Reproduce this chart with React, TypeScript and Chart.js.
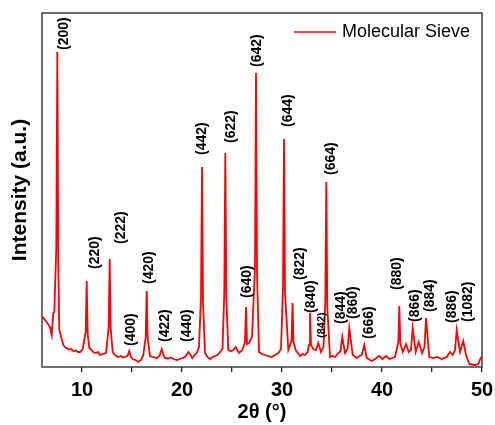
import React, { useEffect, useRef } from "react";
import { Chart, registerables } from "chart.js";

Chart.register(...registerables);

// 2θ (degrees) of every point on the measured pattern
const twoTheta: number[] = [
  6.07, 6.3, 6.53, 6.8, 6.97, 7.13, 7.23, 7.43, 7.53, 7.63, 7.73, 7.87, 8.13, 8.3, 8.47, 8.7, 8.9, 9.13, 9.4, 9.6, 9.8, 10.07,
  10.37, 10.47, 10.57, 10.73, 10.95, 11.13, 11.4, 11.6, 11.8, 12.1, 12.4, 12.67, 12.77, 12.87, 13.07, 13.3, 13.63, 13.9, 14.1,
  14.3, 14.55, 14.73, 14.9, 15.07, 15.35, 15.63, 15.9, 16.13, 16.37, 16.47, 16.57, 16.8, 17.1, 17.47, 17.75, 17.97, 18.15,
  18.3, 18.6, 18.9, 19.13, 19.5, 19.8, 20.05, 20.3, 20.65, 20.8, 21.03, 21.25, 21.47, 21.7, 21.9, 22.0, 22.1, 22.3, 22.55,
  22.8, 23.05, 23.3, 23.55, 23.8, 24.05, 24.23, 24.33, 24.43, 24.63, 24.9, 25.13, 25.37, 25.7, 26.03, 26.3, 26.4, 26.5,
  26.7, 27.0, 27.3, 27.4, 27.5, 27.7, 28.0, 28.3, 28.65, 28.97, 29.3, 29.63, 29.9, 30.1, 30.2, 30.3, 30.63, 30.95, 31.05,
  31.15, 31.37, 31.8, 32.05, 32.3, 32.55, 32.7, 32.8, 32.9, 33.13, 33.4, 33.63, 33.9, 34.15, 34.33, 34.43, 34.53, 34.8,
  35.05, 35.3, 35.63, 35.85, 36.03, 36.3, 36.55, 36.73, 37.07, 37.47, 37.75, 37.97, 38.23, 38.47, 38.97, 39.3, 39.7, 40.07,
  40.4, 40.73, 41.0, 41.3, 41.63, 41.73, 41.83, 42.07, 42.4, 42.67, 42.9, 43.07, 43.37, 43.67, 44.0, 44.25, 44.4, 44.73,
  45.13, 45.53, 45.97, 46.47, 46.8, 47.07, 47.3, 47.47, 47.8, 48.13, 48.4, 48.73, 49.0, 49.3, 49.63, 49.87, 50.0,
];

// Intensity (a.u.) at each 2θ above
const intensity: number[] = [
  500, 470, 440, 400, 320, 540, 550, 1200, 3150, 1000, 370, 320, 220, 200, 190, 175, 180, 160, 165, 150, 150, 180,
  350, 860, 330, 190, 170, 150, 140, 150, 120, 130, 140, 400, 1080, 380, 150, 120, 100, 110, 95,
  100, 110, 160, 100, 80, 70, 50, 70, 120, 300, 760, 280, 110, 100, 90, 110, 180, 120,
  90, 85, 95, 80, 70, 80, 90, 100, 150, 130, 90, 120, 140, 200, 700, 2000, 650, 140, 100,
  80, 100, 110, 120, 150, 180, 750, 2140, 700, 170, 160, 170, 200, 140, 170, 250, 600, 230,
  240, 300, 1000, 2940, 950, 150, 130, 120, 110, 100, 120, 140, 180, 800, 2280, 750, 170, 260, 640,
  250, 170, 110, 130, 120, 150, 220, 540, 220, 180, 170, 240, 150, 200, 650, 1850, 600, 100,
  110, 100, 140, 160, 300, 140, 180, 390, 120, 90, 110, 120, 220, 90, 60, 80, 110, 80,
  110, 80, 90, 100, 250, 610, 240, 150, 230, 150, 170, 390, 150, 250, 140, 200, 490, 100,
  90, 100, 80, 100, 150, 120, 170, 370, 150, 260, 120, 30, 25, 20, 30, 90, 100,
];

// Miller indices written above the reflections, with the 2θ / intensity where each label starts
const hklText: string[] = [
  "(200)", "(220)", "(222)", "(400)", "(420)", "(422)", "(440)", "(442)", "(622)", "(640)", "(642)", "(644)",
  "(822)", "(840)", "(842)", "(664)", "(844)", "(860)", "(666)", "(880)", "(866)", "(884)", "(886)", "(1082)",
];
const hklAt2Theta: number[] = [
  8.2, 11.3, 13.9, 14.9, 16.75, 18.3, 20.5, 22.0, 24.95, 26.5, 27.5, 30.65,
  31.8, 32.9, 34.0, 34.95, 35.9, 37.15, 38.75, 41.55, 43.35, 44.8, 47.0, 48.6,
];
const hklAtIntensity: number[] = [
  3170, 980, 1230, 210, 830, 250, 250, 2120, 2240, 690, 3000, 2400,
  870, 540, 290, 1920, 430, 480, 280, 770, 450, 550, 440, 450,
];

// Axis ticks (labels only on the multiples of ten)
const xTicks: number[] = [10, 15, 20, 25, 30, 35, 40, 45, 50];

const FONT = "'Liberation Sans', Arial, Helvetica, sans-serif";

const framePlugin = {
  id: "frame",
  afterDraw(chart: any) {
    const { ctx, chartArea } = chart;
    ctx.save();
    ctx.strokeStyle = "#222";
    ctx.lineWidth = 1.3;
    ctx.strokeRect(chartArea.left, chartArea.top, chartArea.right - chartArea.left, chartArea.bottom - chartArea.top);
    ctx.restore();
  },
};

// Series key in the upper right corner of the plot
const keyPlugin = {
  id: "seriesKey",
  afterDraw(chart: any) {
    const { ctx, chartArea } = chart;
    const ds = chart.data.datasets[0];
    const textRight = chartArea.right - 12;
    const midY = chartArea.top + 19;
    ctx.save();
    ctx.font = `18px ${FONT}`;
    const w = ctx.measureText(ds.label).width;
    const textLeft = textRight - w;
    ctx.strokeStyle = ds.borderColor;
    ctx.lineWidth = 1.6;
    ctx.beginPath();
    ctx.moveTo(textLeft - 48, midY);
    ctx.lineTo(textLeft - 6, midY);
    ctx.stroke();
    ctx.fillStyle = "#000";
    ctx.textAlign = "left";
    ctx.textBaseline = "middle";
    ctx.fillText(ds.label, textLeft, midY);
    ctx.restore();
  },
};

const hklPlugin = {
  id: "hklLabels",
  afterDatasetsDraw(chart: any) {
    const { ctx, scales } = chart;
    ctx.save();
    ctx.fillStyle = "#000";
    ctx.textAlign = "left";
    ctx.textBaseline = "middle";
    hklText.forEach((t, i) => {
      const px = scales.x.getPixelForValue(hklAt2Theta[i]);
      const py = scales.y.getPixelForValue(hklAtIntensity[i]);
      ctx.font = t === "(842)" ? `bold 11px ${FONT}` : `bold 14px ${FONT}`;
      ctx.save();
      ctx.translate(px, py);
      ctx.rotate(-Math.PI / 2);
      ctx.fillText(t, 0, 0);
      ctx.restore();
    });
    ctx.restore();
  },
};

export default function App() {
  const canvasRef = useRef<HTMLCanvasElement | null>(null);

  useEffect(() => {
    if (!canvasRef.current) return;
    const chart = new Chart(canvasRef.current, {
      type: "line",
      data: {
        datasets: [
          {
            label: "Molecular Sieve",
            data: twoTheta.map((x, i) => ({ x, y: intensity[i] })),
            borderColor: "#ff0000",
            backgroundColor: "#ff0000",
            borderWidth: 1.8,
            pointRadius: 0,
            tension: 0,
            fill: false,
          },
        ],
      },
      options: {
        animation: false,
        responsive: false,
        layout: { padding: { top: 13, right: 13, left: 0, bottom: 0 } },
        plugins: {
          tooltip: { enabled: false },
          legend: { display: false },
        },
        scales: {
          x: {
            type: "linear",
            min: 6,
            max: 50,
            afterBuildTicks: (axis: any) => {
              axis.ticks = xTicks.map((v) => ({ value: v }));
            },
            afterFit: (scale: any) => {
              scale.height = 58;
              scale.paddingLeft = 0;
              scale.paddingRight = 0;
            },
            border: { display: false },
            grid: {
              display: true,
              drawOnChartArea: false,
              drawTicks: true,
              tickLength: 5,
              color: "#222",
              lineWidth: 1.3,
            },
            ticks: {
              color: "#000",
              padding: 6,
              maxRotation: 0,
              autoSkip: false,
              font: { family: FONT, size: 20, weight: "bold" },
              callback: (v: any) => (Number(v) % 10 === 0 ? String(v) : ""),
            },
            title: {
              display: true,
              text: "2θ (°)",
              color: "#000",
              padding: { top: 0, bottom: 1 },
              font: { family: FONT, size: 20, weight: "bold" },
            },
          },
          y: {
            min: 0,
            max: 3540,
            afterFit: (scale: any) => {
              scale.width = 42;
            },
            border: { display: false },
            grid: { display: false, drawTicks: false },
            ticks: { display: false },
            title: {
              display: true,
              text: "Intensity (a.u.)",
              color: "#000",
              padding: { top: 8, bottom: 0 },
              font: { family: FONT, size: 21, weight: "bold" },
            },
          },
        },
      },
      plugins: [framePlugin, hklPlugin, keyPlugin],
    });
    return () => chart.destroy();
  }, []);

  return (
    <div style={{ position: "fixed", left: 0, top: 0, width: 495, height: 425, background: "#fff" }}>
      <canvas ref={canvasRef} width={495} height={425} />
    </div>
  );
}
